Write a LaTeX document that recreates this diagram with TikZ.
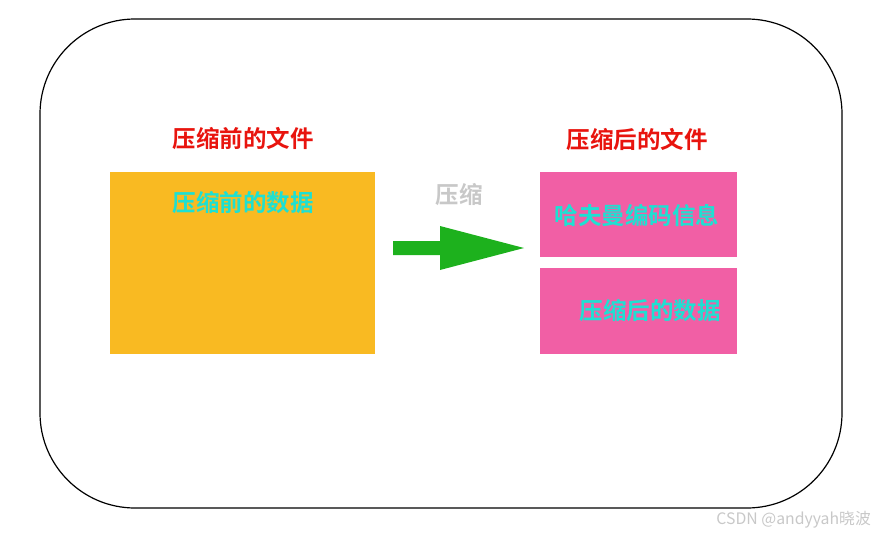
\documentclass[tikz,border=0pt]{standalone}
\usepackage{fontspec}
\newfontfamily\cjk{Noto Sans CJK SC}
\newfontfamily\cjkb{Noto Sans CJK SC Bold}
\usetikzlibrary{shapes.arrows}
\definecolor{orangebox}{HTML}{F9BA22}
\definecolor{pinkbox}{HTML}{F15FA5}
\definecolor{redtxt}{HTML}{E8140E}
\definecolor{cyantxt}{HTML}{1EE0D2}
\definecolor{graytxt}{HTML}{C8C8C8}
\definecolor{greenarrow}{HTML}{1DB11D}
\tikzset{
  title/.style={text=redtxt, font=\cjkb\fontsize{23.5}{23.5}\selectfont, inner sep=0pt},
  inner/.style={text=cyantxt, font=\cjkb\fontsize{23.5}{23.5}\selectfont, inner sep=0pt},
  boxo/.style={fill=orangebox, draw=none},
  boxp/.style={fill=pinkbox, draw=none},
}
\begin{document}
\begin{tikzpicture}[x=1pt,y=-1pt]
\useasboundingbox (0,0) rectangle (875,535);
\draw[line width=1.2pt, rounded corners=95pt] (40,19) rectangle (842,508);
\fill[boxo] (110,172) rectangle (375,354);
\fill[boxp] (540,172) rectangle (737,257);
\fill[boxp] (540,268) rectangle (737,354);
\node[title] (t1) at (243,138) {压缩前的文件};
\node[title] (t2) at (637,139) {压缩后的文件};
\node[inner] (d1) at (243,203) {压缩前的数据};
\node[inner] (h) at (637,215) {哈夫曼编码信息};
\node[inner] (d2) at (650,311) {压缩后的数据};
\node[text=graytxt, font=\cjkb\fontsize{23.5}{23.5}\selectfont, inner sep=0pt] (c) at (459,195) {压缩};
\fill[greenarrow] (393,241) -- (440,241) -- (440,226) -- (524,248) -- (440,270) -- (440,255) -- (393,255) -- cycle;
\node[text=graytxt, font=\cjk\fontsize{15.8}{15.8}\selectfont, anchor=east, inner sep=0pt] (w) at (871,520) {CSDN @andyyah晓波};
\end{tikzpicture}
\end{document}
